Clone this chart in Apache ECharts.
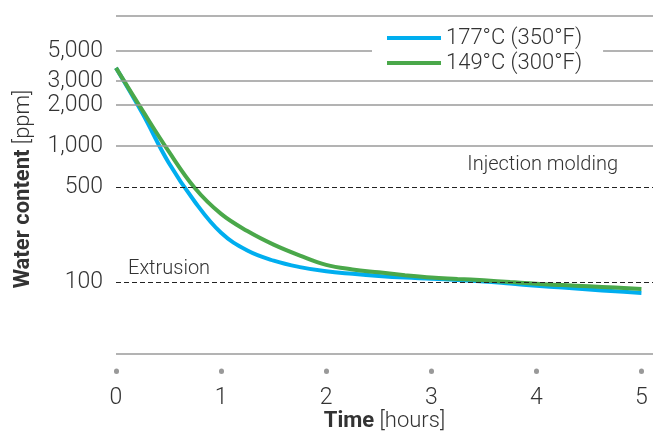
<!DOCTYPE html>
<html>
<head>
<meta charset="utf-8">
<script src="https://cdn.jsdelivr.net/npm/echarts@6/dist/echarts.min.js"></script>
<style>
  html, body { margin: 0; background: #fff; }
  #chart { width: 662px; height: 431px; }
</style>
</head>
<body>
<div id="chart"></div>
<script>
// drying time in hours
var hours = [0, 0.25, 0.5, 0.75, 1, 1.25, 1.5, 1.75, 2, 2.25, 2.5, 2.75, 3,
             3.25, 3.5, 3.75, 4, 4.25, 4.5, 4.75, 5];
// water content (ppm) at 177°C / 149°C
var temp177 = [3750, 1750, 760, 392, 232, 172, 145, 130, 121, 116, 112, 109, 107,
               104.5, 102, 98.5, 95, 92, 89, 86.5, 84];
var temp149 = [3750, 1837, 920, 494, 319, 239, 190, 158, 135, 125, 119, 113.5, 109,
               106.5, 104, 101, 98, 96, 94, 92, 90];
var xTicks = [0, 1, 2, 3, 4, 5];
var yTicks = [100, 500, 1000, 2000, 3000, 5000];
var solidLines = [30, 1000, 2000, 3000, 5000, 9000];
var limits = [{value: 500, text: 'Injection molding'}, {value: 100, text: 'Extrusion'}];

var font = 'Roboto';
var myChart = echarts.init(document.getElementById('chart'));

var gridLines = solidLines.map(function (v) {
    return { yAxis: v, label: { show: false } };
});
var limitLines = limits.map(function (d) {
    return {
        yAxis: d.value,
        lineStyle: { color: '#222', type: [5, 3], width: 1.2 },
        label: {
            show: true,
            formatter: d.text,
            position: d.value === 500 ? 'insideEndTop' : 'insideStartTop',
            distance: d.value === 500 ? [35, 12] : [12, 4],
            fontSize: 20, fontWeight: 300, fontFamily: font, color: '#333'
        }
    };
});

myChart.setOption({
    animation: false,
    grid: { left: 116, right: 9, top: 16, bottom: 77, outerBoundsMode: 'none' },
    legend: {
        data: ['177°C (350°F)', '149°C (300°F)'],
        orient: 'vertical',
        left: 372, top: 21,
        padding: [6, 21, 6, 15],
        backgroundColor: '#fff',
        z: 10,
        icon: 'rect',
        itemWidth: 54, itemHeight: 4, itemGap: 3,
        textStyle: { fontSize: 22, fontWeight: 300, fontFamily: font, color: '#333', lineHeight: 22 }
    },
    xAxis: {
        type: 'value',
        min: 0, max: 5.11, interval: 1,
        offset: 17,
        name: '{b|Time} [hours]',
        nameLocation: 'middle',
        nameGap: 39,
        nameMoveOverlap: false,
        nameTextStyle: {
            fontSize: 22, fontWeight: 300, fontFamily: font, color: '#333',
            rich: { b: { fontSize: 22, fontWeight: 'bold', fontFamily: font, color: '#333' } }
        },
        axisLine: { show: false },
        axisTick: { show: true, customValues: xTicks, length: 0.5, lineStyle: { color: '#999', width: 5, cap: 'round' } },
        axisLabel: { customValues: xTicks, margin: 16, fontSize: 23, fontWeight: 300, fontFamily: font, color: '#333' },
        splitLine: { show: false }
    },
    yAxis: {
        type: 'log',
        logBase: 10,
        min: 30, max: 9000,
        name: '{b|Water content} [ppm]',
        nameLocation: 'middle',
        nameGap: 82,
        nameTextStyle: {
            fontSize: 22, fontWeight: 300, fontFamily: font, color: '#333',
            padding: [0, 8, 0, 0],
            rich: { b: { fontSize: 22, fontWeight: 'bold', fontFamily: font, color: '#333' } }
        },
        axisLine: { show: false },
        axisTick: { show: false },
        axisLabel: {
            customValues: yTicks,
            margin: 13,
            fontSize: 23, fontWeight: 300, fontFamily: font, color: '#333',
            formatter: function (v) { return v.toLocaleString('en-US'); }
        },
        splitLine: { show: false },
        minorSplitLine: { show: false }
    },
    series: [
        {
            type: 'line',
            data: [],
            z: 1,
            silent: true,
            markLine: {
                symbol: 'none',
                silent: true,
                lineStyle: { color: '#9a9a9a', type: 'solid', width: 1.5 },
                data: gridLines.concat(limitLines)
            }
        },
        {
            name: '177°C (350°F)',
            type: 'line',
            smooth: 0.4,
            symbol: 'none',
            z: 3,
            lineStyle: { width: 4, color: '#00aeef' },
            itemStyle: { color: '#00aeef' },
            data: hours.map(function (t, i) { return [t, temp177[i]]; })
        },
        {
            name: '149°C (300°F)',
            type: 'line',
            smooth: 0.4,
            symbol: 'none',
            z: 4,
            lineStyle: { width: 4, color: '#4aa84a' },
            itemStyle: { color: '#4aa84a' },
            data: hours.map(function (t, i) { return [t, temp149[i]]; })
        }
    ]
});
</script>
</body>
</html>
